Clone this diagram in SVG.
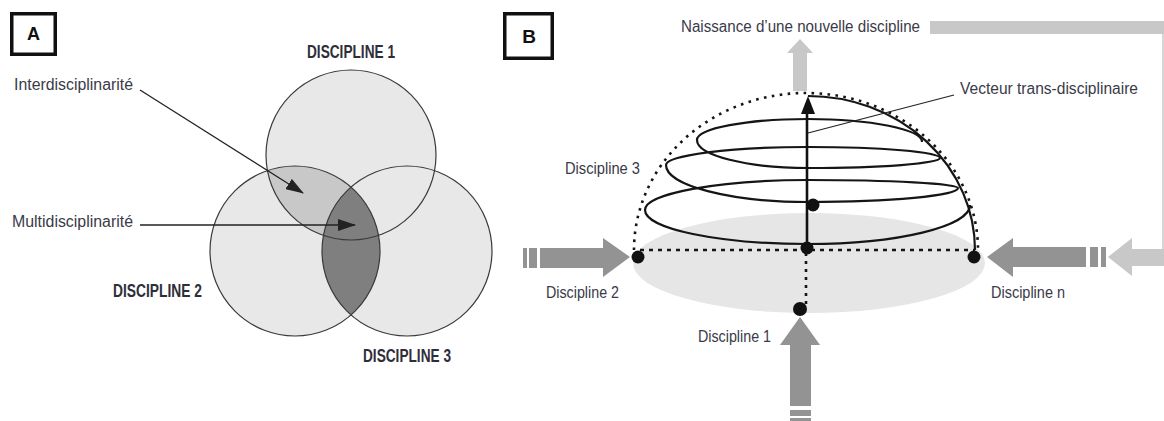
<svg xmlns="http://www.w3.org/2000/svg" width="1164" height="421" viewBox="0 0 1164 421">
<defs>
<style>
.lbl{font-family:"Liberation Sans",Arial,sans-serif;font-size:16px;fill:#3a3a48}
.big{font-family:"Liberation Sans",Arial,sans-serif;font-size:18px;font-weight:bold;fill:#2e2e3a}
.tag{font-family:"Liberation Sans",Arial,sans-serif;font-weight:bold;fill:#111;text-anchor:middle}
.box{fill:#fff;stroke:#111;stroke-width:3.5}
.circ{fill:#e8e8e8;stroke:none}
.outl{fill:none;stroke:#3a3a3a;stroke-width:1.2}
.ln{stroke:#222;stroke-width:1.3;fill:none}
.dark{fill:#939393}
.light{fill:#c8c8c8}
.dot{fill:#111}
.blk{stroke:#151515;fill:none;stroke-width:2.2}
.dots{stroke:#151515;fill:none;stroke-width:2.6}
</style>
<clipPath id="c2"><circle cx="295" cy="251" r="85"/></clipPath>
<marker id="ah" viewBox="0 0 18 12" refX="17" refY="6" markerWidth="18" markerHeight="12" markerUnits="userSpaceOnUse" orient="auto"><path d="M0,0 L18,6 L0,12 z" fill="#222"/></marker>
</defs>
<rect width="1164" height="421" fill="#fff"/>

<!-- Panel A -->
<g id="tag-a"><rect class="box" x="11.75" y="13.75" width="43.5" height="40.5"/><text class="tag" x="33.5" y="40" font-size="18">A</text></g>

<g id="discipline-1"><circle class="circ" cx="351" cy="155" r="85"/></g>
<g id="discipline-2"><circle class="circ" cx="295" cy="251" r="85"/></g>
<g id="discipline-3"><circle class="circ" cx="407" cy="251" r="85"/></g>
<g id="interdisciplinarite-zone"><circle cx="351" cy="155" r="85" fill="#c8c8c9" clip-path="url(#c2)"/></g>
<g id="multidisciplinarite-zone"><circle cx="407" cy="251" r="85" fill="#7f7f80" clip-path="url(#c2)"/></g>
<g id="outlines">
<circle class="outl" cx="351" cy="155" r="85"/>
<circle class="outl" cx="295" cy="251" r="85"/>
<circle class="outl" cx="407" cy="251" r="85"/>
</g>

<g id="labels-a">
<text class="big" x="307" y="58" textLength="88" lengthAdjust="spacingAndGlyphs">DISCIPLINE 1</text>
<text class="big" x="113" y="297" textLength="89" lengthAdjust="spacingAndGlyphs">DISCIPLINE 2</text>
<text class="big" x="363" y="362" textLength="88" lengthAdjust="spacingAndGlyphs">DISCIPLINE 3</text>
<text class="lbl" x="14" y="90" textLength="119" lengthAdjust="spacingAndGlyphs">Interdisciplinarité</text>
<text class="lbl" x="12" y="227" textLength="121" lengthAdjust="spacingAndGlyphs">Multidisciplinarité</text>
</g>

<!-- Panel B -->
<g id="tag-b"><rect class="box" x="504.75" y="13.75" width="47.5" height="44.5"/><text class="tag" x="529" y="43" font-size="19">B</text></g>

<g id="base"><ellipse cx="809" cy="263" rx="176" ry="50" fill="#e6e6e6"/></g>

<g id="dome">
<path class="dots" d="M 634 250 A 172 157 0 0 1 978 250" stroke-dasharray="2.6 5.4"/>
<path class="blk" d="M 808 96 A 167 154 0 0 1 975 250"/>
<path class="blk" d="M 970 205 C 970 226.5 897 244 808 244 C 718.4 244 645 228.7 645 210 C 645 193.5 718.4 180 808 180 C 890.5 180 958 183.6 958 188 C 958 195.7 890.5 202 808 202 C 730 202 666 185.4 666 165 C 666 155.1 730 147 808 147 C 880.6 147 940 152 940 158 C 940 163.5 880.6 168 808 168 C 747 168 697 155.4 697 140 C 697 128.5 747 119 808 119 C 870.7 119 922 129.4 922 142"/>
<path class="dots" d="M 640 250 H 975" stroke-dasharray="4 5" stroke-width="2.5"/>
<path class="dots" d="M 806 253 V 304" stroke-dasharray="3 5" stroke-width="2.5"/>
</g>

<g id="dots-b">
<circle class="dot" cx="638" cy="257" r="6.5"/>
<circle class="dot" cx="974" cy="257" r="6.5"/>
<circle class="dot" cx="807" cy="248" r="6.5"/>
<circle class="dot" cx="813" cy="205" r="6.5"/>
<circle class="dot" cx="800" cy="309" r="7"/>
</g>

<g id="connectors">
<line class="ln" x1="140" y1="90" x2="303" y2="193" marker-end="url(#ah)"/>
<line class="ln" x1="140" y1="225" x2="355" y2="225" marker-end="url(#ah)"/>
<line x1="807" y1="248" x2="807" y2="112" stroke="#111" stroke-width="2.6"/>
<polygon points="808,96 815,114 801,114" fill="#111"/>
<line x1="954" y1="95" x2="808" y2="133" stroke="#222" stroke-width="1.2"/>
<!-- discipline 2 arrow -->
<rect class="dark" x="523" y="248" width="4" height="20"/>
<rect class="dark" x="529" y="248" width="8" height="20"/>
<polygon class="dark" points="540,248 603,248 603,238 630,257 603,277 603,268 540,268"/>
<!-- discipline n arrow -->
<polygon class="dark" points="987,257 1013,238 1013,247 1086,247 1086,267 1013,267 1013,277"/>
<rect class="dark" x="1090" y="247" width="8" height="20"/>
<rect class="dark" x="1101" y="247" width="5" height="20"/>
<!-- discipline 1 arrow -->
<polygon class="dark" points="800,317 820,345 811,345 811,406 790,406 790,345 780,345"/>
<rect class="dark" x="790" y="410" width="21" height="6"/>
<rect class="dark" x="790" y="418" width="21" height="3"/>
<!-- feedback loop -->
<polygon class="light" points="800,39 813,53 807,53 807,91 793,91 793,53 787,53"/>
<rect class="light" x="930" y="21" width="234" height="13"/>
<line x1="1163" y1="34" x2="1163" y2="250" stroke="#c8c8c8" stroke-width="1.5"/>
<polygon class="light" points="1108,257 1132,238 1132,249 1164,249 1164,266 1132,266 1132,276"/>
</g>

<g id="labels-b">
<text class="lbl" x="681" y="32" textLength="239" lengthAdjust="spacingAndGlyphs">Naissance d’une nouvelle discipline</text>
<text class="lbl" x="960" y="94" textLength="178" lengthAdjust="spacingAndGlyphs">Vecteur trans-disciplinaire</text>
<text class="lbl" x="565" y="174" textLength="75" lengthAdjust="spacingAndGlyphs">Discipline 3</text>
<text class="lbl" x="546" y="298" textLength="73" lengthAdjust="spacingAndGlyphs">Discipline 2</text>
<text class="lbl" x="991" y="298" textLength="74" lengthAdjust="spacingAndGlyphs">Discipline n</text>
<text class="lbl" x="698" y="342" textLength="73" lengthAdjust="spacingAndGlyphs">Discipline 1</text>
</g>
</svg>
